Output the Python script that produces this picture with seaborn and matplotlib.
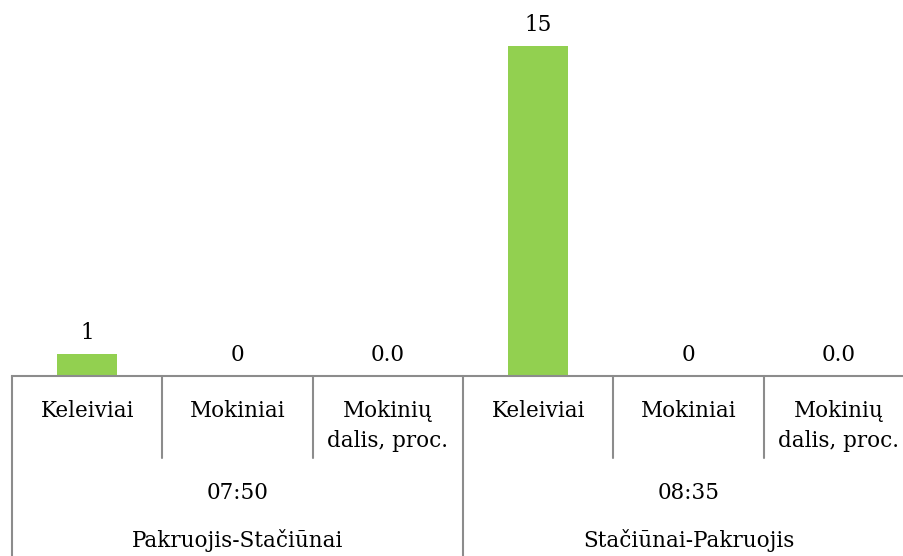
import matplotlib
matplotlib.use("Agg")
import matplotlib.pyplot as plt
import matplotlib.transforms as mtransforms
import seaborn as sns
import pandas as pd
import numpy as np

categories = ["Keleiviai", "Mokiniai", "Mokinių\ndalis, proc.",
              "Keleiviai", "Mokiniai", "Mokinių\ndalis, proc."]
times = ["07:50", "08:35"]
routes = ["Pakruojis-Stačiūnai", "Stačiūnai-Pakruojis"]
values = [1, 0, 0.0, 15, 0, 0.0]
value_labels = ["1", "0", "0.0", "15", "0", "0.0"]

sns.set_theme(style="white")
plt.rcParams['font.family'] = ['DejaVu Serif']
plt.rcParams['text.color'] = '#000000'

ids = [f"{times[i // 3]}|{c}" for i, c in enumerate(categories)]
df = pd.DataFrame({"id": ids, "value": values})

W, H = 904, 556
fig = plt.figure(figsize=(W / 100, H / 100), dpi=100)
left_px, right_px, bottom_px, top_px = 12, 914, 376, 2
ax = fig.add_axes([left_px / W, 1 - bottom_px / H,
                   (right_px - left_px) / W, (bottom_px - top_px) / H])

sns.barplot(data=df, x="id", y="value", order=ids, color="#92D050",
            saturation=1, width=0.4, ax=ax, errorbar=None, linewidth=0)
ax.set_xlim(-0.5, len(ids) - 0.5)
ax.set_ylim(0, 17)
ax.set_xlabel("")
ax.set_ylabel("")
ax.set_xticks([])
ax.set_yticks([])
for s in ["top", "right", "left"]:
    ax.spines[s].set_visible(False)
ax.spines["bottom"].set_color("#8c8c8c")
ax.spines["bottom"].set_linewidth(1.5)

fs = 15.5
# data labels
for i, (v, lab) in enumerate(zip(values, value_labels)):
    ax.annotate(lab, (i, v), xytext=(0, 7.5), textcoords="offset points",
                ha="center", va="bottom", fontsize=fs, color="#000000")

# category axis text in figure pixel y coordinates
trans = mtransforms.blended_transform_factory(ax.transData, fig.transFigure)
def fy(px):
    return 1 - px / H

for i, c in enumerate(categories):
    if "\n" in c:
        ax.text(i, fy(426), c, transform=trans, ha="center", va="center",
                fontsize=fs, linespacing=1.45, clip_on=False, color="#000000")
    else:
        ax.text(i, fy(411), c, transform=trans, ha="center", va="center",
                fontsize=fs, clip_on=False, color="#000000")

for g, (t, r) in enumerate(zip(times, routes)):
    cx = g * 3 + 1
    ax.text(cx, fy(493), t, transform=trans, ha="center", va="center",
            fontsize=fs, clip_on=False, color="#000000")
    ax.text(cx, fy(541), r, transform=trans, ha="center", va="center",
            fontsize=fs, clip_on=False, color="#000000")

# separators
lc = "#8c8c8c"
for b in np.arange(-0.5, len(ids), 1.0):
    if b in (-0.5, 2.5, 5.5):
        ax.plot([b, b], [fy(376), fy(560)], transform=trans, color=lc,
                lw=1.5, clip_on=False)
    else:
        ax.plot([b, b], [fy(376), fy(458)], transform=trans, color=lc,
                lw=1.5, clip_on=False)

fig.savefig("out.png", dpi=100)
